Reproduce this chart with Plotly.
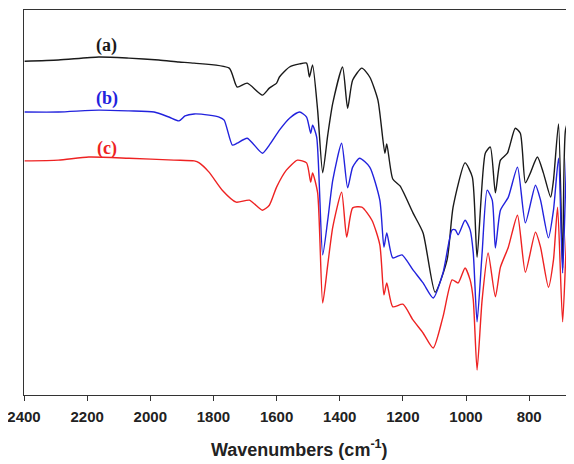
import plotly.graph_objects as go

# Wavenumbers (cm-1) and transmittance-like values (arbitrary units)
wn_a = [2398, 2291, 2163, 2068, 1973, 1909, 1861, 1750, 1725, 1693, 1645, 1623, 1600, 1591, 1559,
        1527, 1505, 1496, 1486, 1470, 1454, 1438, 1422, 1391, 1375, 1359, 1330, 1305, 1279, 1257,
        1251, 1232, 1209, 1168, 1136, 1098, 1060, 1041, 1003, 980, 965, 939, 923, 907, 891, 869,
        844, 828, 812, 796, 774, 755, 732, 723, 707, 694, 685, 669, 656]
t_a = [86.7, 87.0, 87.8, 87.5, 87.0, 86.5, 86.2, 84.9, 80.0, 81.0, 77.9, 79.7, 81.0, 82.6, 85.2,
       86.0, 86.2, 82.6, 85.7, 74.0, 57.7, 67.5, 75.8, 85.2, 74.5, 81.8, 84.9, 82.6, 76.6, 62.8,
       65.2, 56.1, 54.3, 47.3, 42.1, 26.7, 35.1, 48.8, 60.3, 56.6, 35.8, 62.8, 64.4, 52.5, 61.0, 62.8,
       69.3, 68.0, 55.1, 57.7, 61.8, 57.7, 51.4, 55.8, 70.4, 33.0, 68.8, 73.2, 76.1]

wn_b = [2398, 2291, 2163, 2068, 1988, 1941, 1909, 1890, 1861, 1814, 1782, 1766, 1740, 1725, 1693,
        1645, 1623, 1591, 1559, 1527, 1505, 1492, 1486, 1473, 1454, 1438, 1422, 1394, 1375, 1359,
        1337, 1305, 1273, 1260, 1251, 1232, 1203, 1168, 1136, 1104, 1073, 1044, 1034, 1025, 1003,
        987, 977, 965, 949, 933, 917, 907, 891, 866, 837, 812, 780, 764, 739, 723, 707, 694, 678,
        662, 656]
t_b = [73.5, 73.5, 74.0, 73.8, 73.5, 72.2, 71.2, 72.5, 73.0, 72.7, 72.2, 71.4, 64.9, 65.4, 66.7,
       62.8, 64.9, 68.8, 71.9, 73.5, 72.2, 68.0, 70.1, 67.0, 36.4, 45.4, 55.8, 65.4, 53.8, 59.2,
       61.5, 59.2, 50.6, 38.4, 42.1, 35.6, 36.4, 32.5, 29.1, 25.2, 31.7, 42.9, 42.9, 41.6, 45.4,
       42.9, 36.9, 19.0, 36.9, 53.2, 50.6, 38.2, 48.0, 51.4, 59.2, 44.7, 54.5, 50.6, 40.8, 48.0,
       61.5, 31.7, 66.2, 73.2, 75.1]

wn_c = [2398, 2291, 2195, 2068, 1925, 1861, 1845, 1814, 1772, 1728, 1686, 1645, 1623, 1600, 1569,
        1534, 1505, 1492, 1486, 1470, 1454, 1438, 1422, 1394, 1378, 1359, 1330, 1298, 1273, 1260,
        1251, 1232, 1200, 1168, 1136, 1104, 1073, 1044, 1025, 1003, 987, 977, 965, 949, 930, 907,
        891, 866, 837, 812, 780, 764, 739, 723, 710, 694, 678, 656]
t_c = [60.8, 61.0, 61.8, 61.5, 61.0, 60.8, 60.3, 57.9, 53.2, 50.1, 50.6, 48.0, 49.3, 54.0, 58.4,
       61.0, 60.3, 55.3, 57.7, 52.5, 23.9, 33.8, 43.6, 52.7, 41.0, 48.6, 48.8, 45.4, 39.0, 26.0,
       29.1, 22.9, 23.6, 19.5, 16.1, 12.2, 20.3, 29.9, 29.1, 33.0, 29.9, 24.7, 6.5, 24.7, 36.9,
       25.5, 33.2, 38.4, 46.7, 31.9, 42.3, 38.4, 28.0, 35.1, 48.8, 19.0, 46.2, 60.5]

series_names = ["(a)", "(b)", "(c)"]
series_colors = ["#1a1a1a", "#2222dd", "#ee2222"]
label_x = [2138, 2138, 2138]
label_y = [90.9, 76.9, 64.1]
tick_vals = [2400, 2200, 2000, 1800, 1600, 1400, 1200, 1000, 800]
x_title = "<b>Wavenumbers (cm<sup>-1</sup>)</b>"

fig = go.Figure()
for wn, t, name, col in zip([wn_a, wn_b, wn_c], [t_a, t_b, t_c], series_names, series_colors):
    fig.add_trace(go.Scatter(x=wn, y=t, mode="lines", name=name,
                             line=dict(color=col, width=1.4, shape="spline", smoothing=0.6),
                             showlegend=False, hoverinfo="skip"))

for lx, ly, name, col in zip(label_x, label_y, series_names, series_colors):
    fig.add_annotation(x=lx, y=ly, text="<b>%s</b>" % name, showarrow=False,
                       font=dict(family="Liberation Serif", size=18, color=col))

# x-axis title placed as a paper annotation under the tick labels
fig.add_annotation(xref="paper", yref="paper", x=0.5, y=-0.14, xanchor="center",
                   yanchor="middle", text=x_title, showarrow=False,
                   font=dict(family="Liberation Sans", size=18, color="#222"))

# the page body adds an 8px offset, so margins are reduced by 8px to compensate
fig.update_layout(
    width=574, height=464,
    margin=dict(l=16, r=8, t=2, b=77, autoexpand=False),
    paper_bgcolor="white", plot_bgcolor="white",
    xaxis=dict(range=[2400, 658], tickvals=tick_vals, automargin=False,
               ticktext=["<b>%d</b>" % v for v in tick_vals],
               ticks="outside", ticklen=5, tickwidth=1, tickcolor="#333",
               ticklabelstandoff=3, ticklabeloverflow="allow",
               showline=True, linecolor="#333", linewidth=1, mirror=True,
               showgrid=False, zeroline=False,
               tickfont=dict(family="Liberation Sans", size=15, color="#222")),
    yaxis=dict(range=[0, 100], showticklabels=False, ticks="", showgrid=False, automargin=False,
               zeroline=False, showline=True, linecolor="#333", linewidth=1),
)

fig.write_html("out.html")
